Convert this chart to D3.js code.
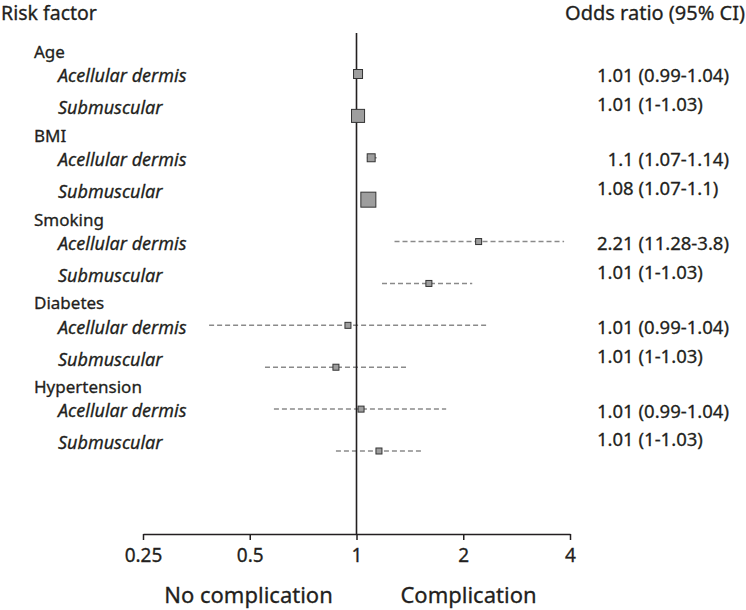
<!DOCTYPE html>
<html>
<head>
<meta charset="utf-8">
<script src="https://cdn.jsdelivr.net/npm/d3@7"></script>
<style>
  html, body { margin: 0; padding: 0; background: #fff; }
  svg { display: block; font-family: "Noto Sans", "Open Sans", sans-serif; }
  svg text { stroke: #231f20; stroke-width: 0.3px; }
</style>
</head>
<body>
<svg id="chart" width="746" height="610"></svg>
<script>
// ---- data ----
const factors = ["Age", "BMI", "Smoking", "Diabetes", "Hypertension"];
const subgroups = ["Acellular dermis", "Submuscular"];
// plotted odds ratios (row order: factor x subgroup)
const oddsRatio = [1.01, 1.01, 1.10, 1.08, 2.21, 1.60, 0.946, 0.875, 1.03, 1.157];
const ciLower   = [0.99, 1.00, 1.07, 1.07, 1.28, 1.18, 0.384, 0.552, 0.585, 0.875];
const ciUpper   = [1.04, 1.03, 1.14, 1.10, 3.85, 2.12, 2.33, 1.39, 1.79, 1.54];
const weights   = [60, 87, 53, 100, 40, 40, 40, 40, 40, 40];
const orLabels  = [
  "1.01 (0.99-1.04)", "1.01 (1-1.03)",
  "\u20071.1 (1.07-1.14)", "1.08 (1.07-1.1)",
  "2.21 (11.28-3.8)", "1.01 (1-1.03)",
  "1.01 (0.99-1.04)", "1.01 (1-1.03)",
  "1.01 (0.99-1.04)", "1.01 (1-1.03)"
];
const tickValues = [0.25, 0.5, 1, 2, 4];
const tickLabels = ["0.25", "0.5", "1", "2", "4"];

// ---- layout ----
const svg = d3.select("#chart");
const textColor = "#231f20";

const x = d3.scaleLog().base(2).domain([0.25, 4]).range([143, 570]);
const rowY = d3.scaleLinear().domain([0, 9]).range([74, 451]);
const boxSize = d3.scaleLinear().domain([0, 100]).range([0, 15]);
const axisY = 534;

const rows = oddsRatio.map((v, i) => ({
  i, factor: factors[Math.floor(i / 2)], sub: subgroups[i % 2],
  or: v, lo: ciLower[i], hi: ciUpper[i], w: weights[i], label: orLabels[i]
}));

// headers
svg.append("text").attr("x", 1).attr("y", 20)
  .attr("font-size", 19.5).attr("fill", textColor).text("Risk factor");
svg.append("text").attr("x", 745).attr("y", 20).attr("text-anchor", "end")
  .attr("font-size", 20).attr("fill", textColor).text("Odds ratio (95% CI)");

// factor names
svg.append("g").selectAll("text").data(factors).join("text")
  .attr("x", 34)
  .attr("y", (d, g) => rowY(g * 2) - 22)
  .attr("dy", "0.35em")
  .attr("font-size", 17).attr("fill", textColor)
  .text(d => d);

// subgroup labels
const labelOffset = r => (r.i % 2 === 0 ? 2 : -8);
svg.append("g").selectAll("text").data(rows).join("text")
  .attr("x", 58)
  .attr("y", r => rowY(r.i) + labelOffset(r))
  .attr("dy", "0.35em")
  .attr("font-size", 18).attr("font-style", "italic").attr("fill", textColor)
  .text(r => r.sub);

// OR labels
svg.append("g").selectAll("text").data(rows).join("text")
  .attr("x", 597)
  .attr("y", r => rowY(r.i) + (r.i % 2 === 0 ? 2 : -11))
  .attr("dy", "0.35em")
  .attr("font-size", 18.5).attr("fill", textColor)
  .text(r => r.label);

// CI lines
svg.append("g").selectAll("line").data(rows).join("line")
  .attr("x1", r => x(r.lo)).attr("x2", r => x(r.hi))
  .attr("y1", r => rowY(r.i)).attr("y2", r => rowY(r.i))
  .attr("stroke", "#8a8a8a").attr("stroke-width", 1.5)
  .attr("stroke-dasharray", "5,3");

// reference line at OR = 1
svg.append("line")
  .attr("x1", x(1)).attr("x2", x(1))
  .attr("y1", 33).attr("y2", axisY)
  .attr("stroke", "#231f20").attr("stroke-width", 1.6);

// boxes
svg.append("g").selectAll("rect").data(rows).join("rect")
  .attr("x", r => x(r.or) - boxSize(r.w) / 2)
  .attr("y", r => rowY(r.i) - boxSize(r.w) / 2)
  .attr("width", r => boxSize(r.w))
  .attr("height", r => boxSize(r.w))
  .attr("fill", "#9e9e9e").attr("stroke", "#333").attr("stroke-width", 1);

// axis
const axis = d3.axisBottom(x)
  .tickValues(tickValues)
  .tickFormat((d, i) => tickLabels[i])
  .tickSize(6).tickSizeOuter(0).tickPadding(9);
const ax = svg.append("g").attr("transform", `translate(0,${axisY})`).call(axis);
ax.select(".domain").attr("stroke", textColor).attr("stroke-width", 1.5);
ax.selectAll(".tick line").attr("stroke", textColor).attr("stroke-width", 1.5);
ax.selectAll(".tick text")
  .attr("font-size", 19).attr("fill", textColor)
  .attr("font-family", "\"Noto Sans\", sans-serif");

// bottom labels
svg.append("text").attr("x", 248.5).attr("y", 603).attr("text-anchor", "middle")
  .attr("font-size", 22).attr("fill", textColor).text("No complication");
svg.append("text").attr("x", 468.5).attr("y", 603).attr("text-anchor", "middle")
  .attr("font-size", 22).attr("fill", textColor).text("Complication");
</script>
</body>
</html>
